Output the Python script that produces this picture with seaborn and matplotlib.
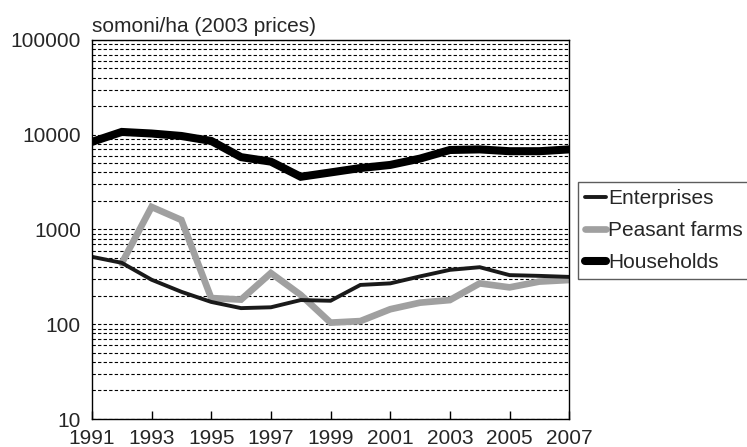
import numpy as np
import pandas as pd
import matplotlib
matplotlib.use("Agg")
import matplotlib.pyplot as plt
import matplotlib.ticker as mticker
import seaborn as sns

years = list(range(1991, 2008))
enterprises = [515, 445, 295, 220, 172, 148, 151, 180, 177, 260, 270, 320, 375, 400, 330, 324, 316]
peasant_farms = [np.nan, 440, 1730, 1260, 189, 182, 347, 204, 104, 108, 144, 169, 180, 270, 245, 282, 293]
households = [8400, 10700, 10300, 9700, 8600, 5800, 5200, 3600, 4000, 4450, 4800, 5600, 6900, 7000, 6700, 6700, 7000]

series_names = ["Enterprises", "Peasant farms", "Households"]
series_colors = {"Enterprises": "#1a1a1a", "Peasant farms": "#a0a0a0", "Households": "#000000"}
series_widths = {"Enterprises": 2.8, "Peasant farms": 4.8, "Households": 5.8}

df = pd.DataFrame({
    "year": years * 3,
    "value": enterprises + peasant_farms + households,
    "series": [n for n in series_names for _ in years],
})

sns.set_theme(style="white")
plt.rcParams["font.family"] = ["Liberation Sans", "DejaVu Sans"]

fig = plt.figure(figsize=(7.47, 4.47), dpi=100)
ax = fig.add_axes([0.123, 0.0626, 0.639, 0.848])

for name in ["Households", "Peasant farms", "Enterprises"]:
    sub = df[df["series"] == name].dropna()
    sns.lineplot(data=sub, x="year", y="value", ax=ax, color=series_colors[name],
                 linewidth=series_widths[name], label=name, solid_joinstyle="miter")

ax.set_yscale("log")
ax.set_ylim(10, 100000)
ax.set_xlim(1991, 2007)
ax.set_xticks(range(1991, 2008, 2))
ax.yaxis.set_major_locator(mticker.FixedLocator([10, 100, 1000, 10000, 100000]))
ax.yaxis.set_major_formatter(mticker.FuncFormatter(lambda v, p: f"{int(round(v))}"))
ax.yaxis.set_minor_locator(mticker.LogLocator(base=10, subs=np.arange(2, 10)))
ax.yaxis.set_minor_formatter(mticker.NullFormatter())
ax.grid(True, which="both", axis="y", color="black", linestyle=(0, (3, 2)), linewidth=0.8)
ax.grid(False, axis="x")
ax.tick_params(axis="y", which="both", length=0, labelsize=15, pad=8)
ax.tick_params(axis="x", direction="in", length=6, width=1, color="black", labelsize=15, pad=7)
ax.xaxis.set_ticks_position("bottom")
ax.set_xlabel("")
ax.set_ylabel("")
for s in ax.spines.values():
    s.set_color("black")
    s.set_linewidth(1)

ax.text(0.0, 1.01, "somoni/ha (2003 prices)", transform=ax.transAxes, fontsize=15,
        ha="left", va="bottom")

handles, labels = ax.get_legend_handles_labels()
order = [labels.index(n) for n in series_names]
leg = ax.legend([handles[i] for i in order], [labels[i] for i in order],
                loc="upper left", bbox_to_anchor=(0.774, 0.593), bbox_transform=fig.transFigure,
                fontsize=15, frameon=True, fancybox=False, handlelength=1.0,
                handletextpad=0.1, borderpad=0.35, labelspacing=0.62, borderaxespad=0)
leg.get_frame().set_edgecolor("#333333")
leg.get_frame().set_linewidth(1)

fig.savefig("out.png", dpi=100)
